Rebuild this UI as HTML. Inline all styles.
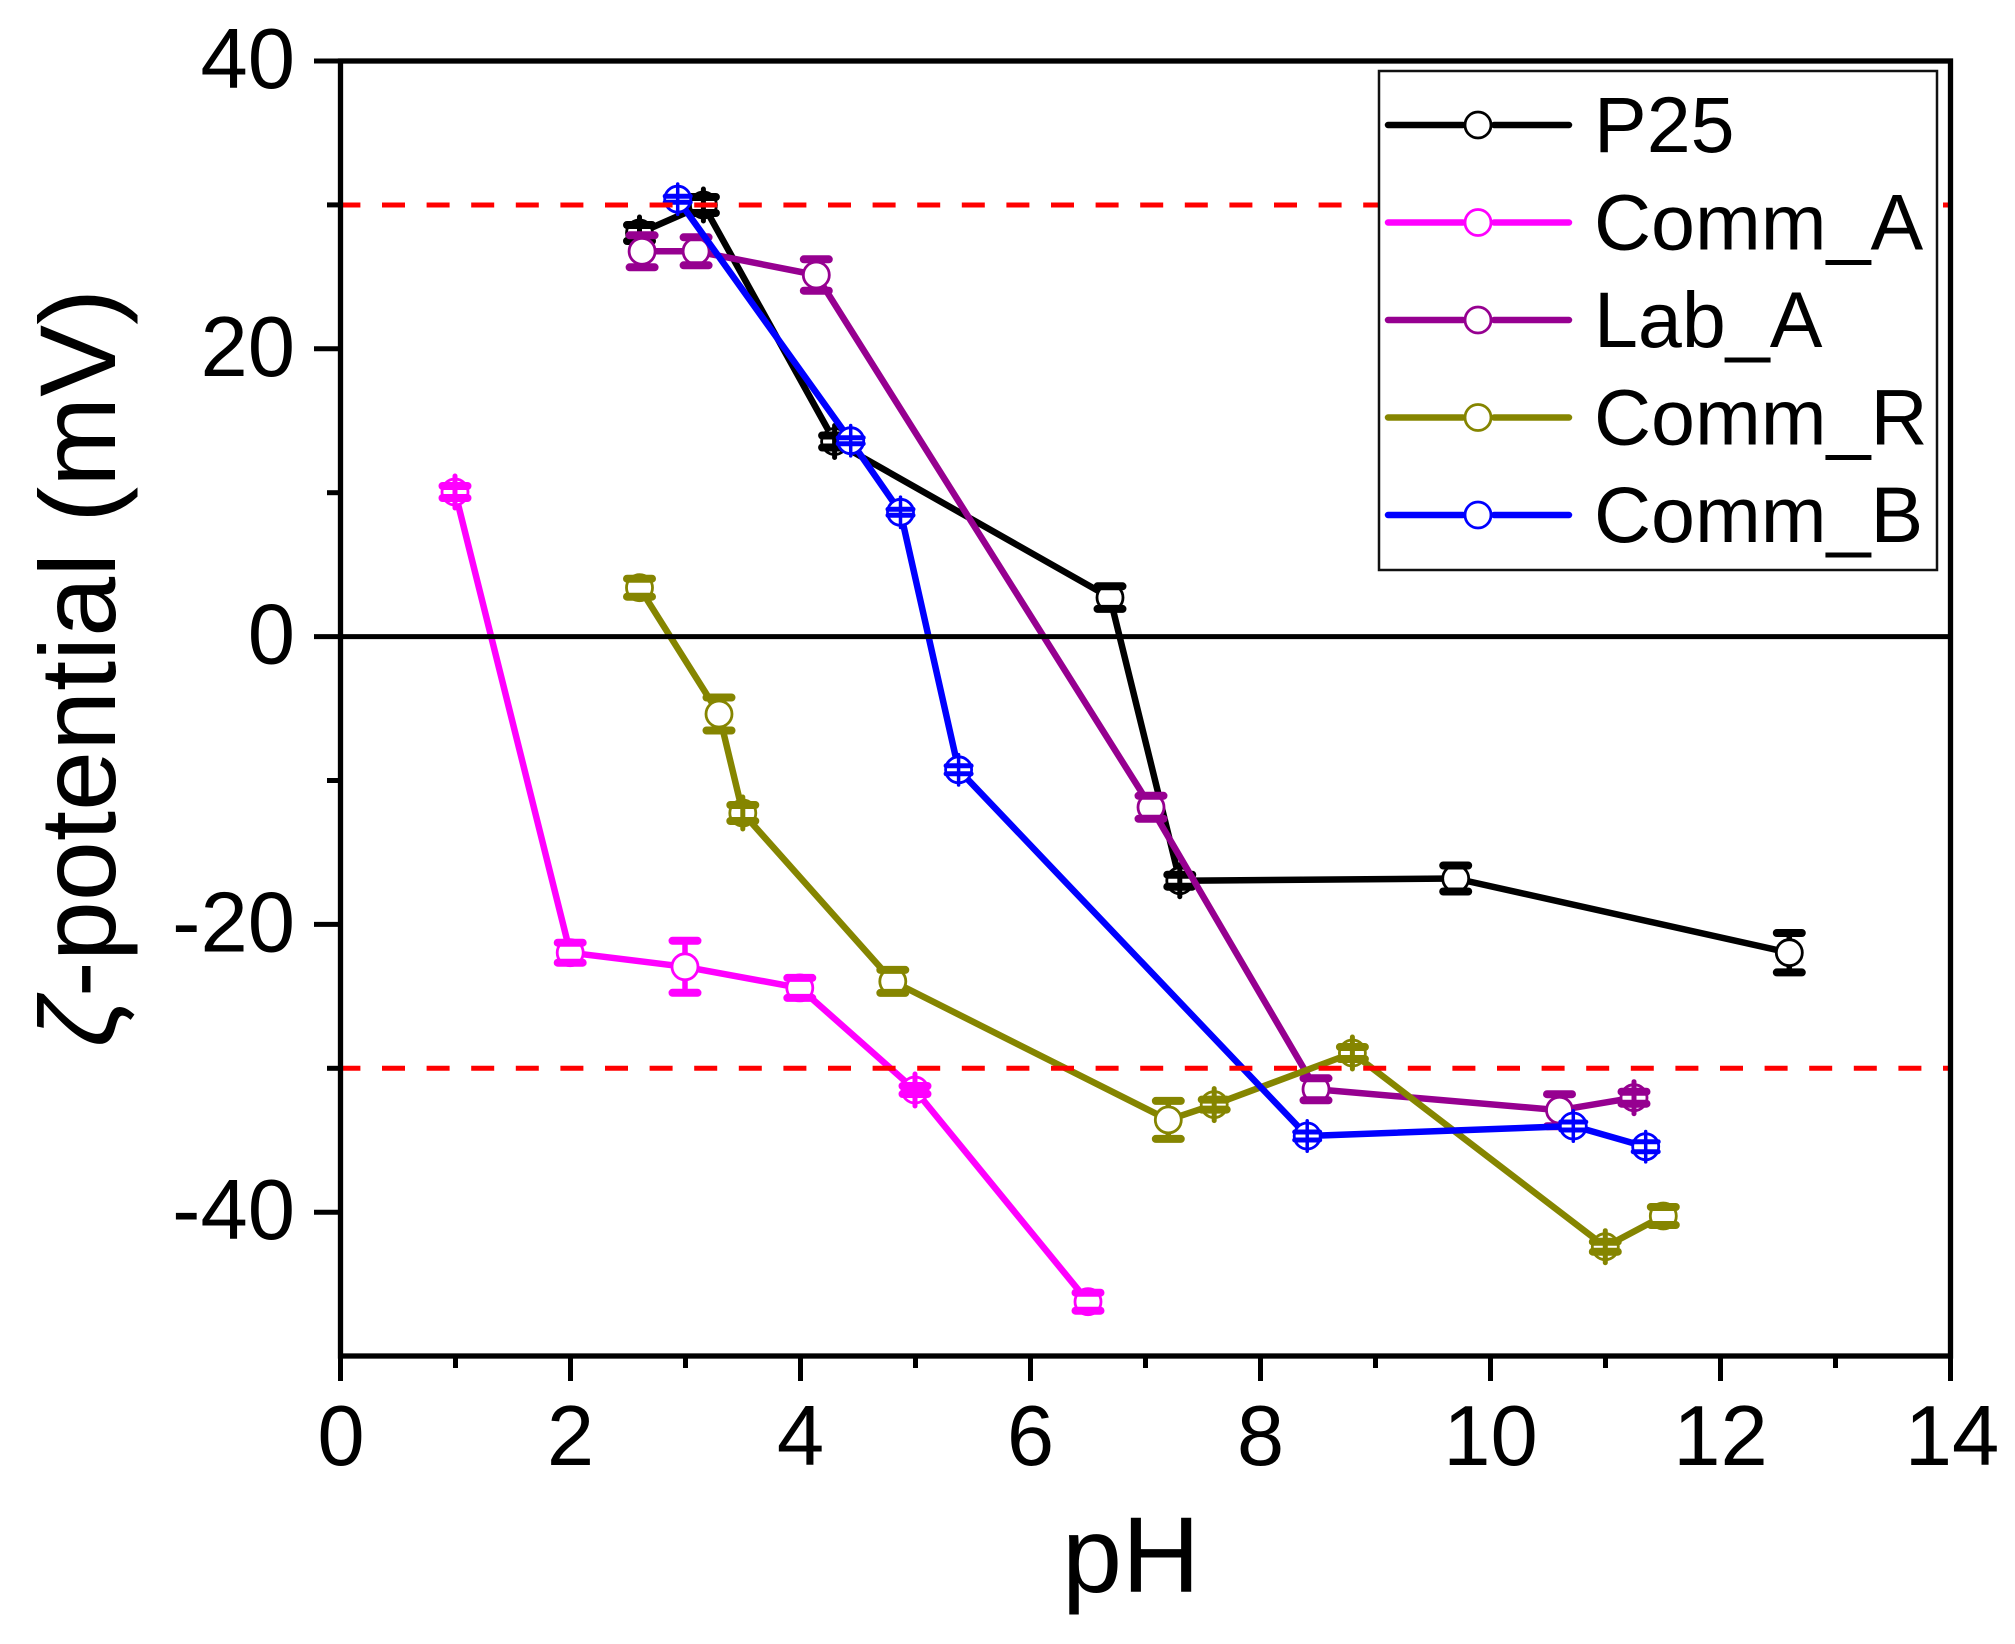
<!DOCTYPE html>
<html>
<head>
<meta charset="utf-8">
<style>
  html,body{margin:0;padding:0;background:#fff;}
  svg{display:block;}
  text{font-family:"Liberation Sans",Arial,sans-serif;fill:#000;}
</style>
</head>
<body>
<svg width="2015" height="1644" viewBox="0 0 2015 1644" xmlns="http://www.w3.org/2000/svg">
  <rect x="0" y="0" width="2015" height="1644" fill="#fff"/>

  <!-- ================= DATA ================= -->
  <g fill="none" stroke-linecap="round" stroke-linejoin="round">

    <!-- P25 (black) -->
    <polyline stroke="#000" stroke-width="6.5" points="639.5,233 703.4,205 834.6,441.5 1110,597.6 1179.8,880.7 1455.7,878.5 1789.3,952.7"/>
    <path stroke="#000" stroke-width="5.5" d="M1110 586.3V608.9 M1455.7 865.5V891.5 M1789.3 933V972.4"/>
    <g fill="#fff" stroke="#000" stroke-width="2.8">
      <circle cx="639.5" cy="233" r="13"/><circle cx="703.4" cy="205" r="13"/><circle cx="834.6" cy="441.5" r="13"/>
      <circle cx="1110" cy="597.6" r="13"/><circle cx="1179.8" cy="880.7" r="13"/><circle cx="1455.7" cy="878.5" r="13"/>
      <circle cx="1789.3" cy="952.7" r="13"/>
    </g>
    <path stroke="#000" stroke-width="5" d="M639.5 217V249 M703.4 189V221 M834.6 425.5V457.5 M1179.8 864.7V896.7"/>
    <path stroke="#000" stroke-width="8" d="M627 225H652 M627 241H652 M690.9 197H715.9 M690.9 213H715.9 M822.1 435.5H847.1 M822.1 447.5H847.1 M1097.5 586.3H1122.5 M1097.5 608.9H1122.5 M1167.3 874.7H1192.3 M1167.3 886.7H1192.3 M1443.2 865.5H1468.2 M1443.2 891.5H1468.2 M1776.8 933H1801.8 M1776.8 972.4H1801.8"/>

    <!-- Comm_A (magenta) -->
    <polyline stroke="#ff00ff" stroke-width="6.5" points="455,492 570.2,952.7 685,966.8 799.8,987.9 915,1090 1088,1301.7"/>
    <path stroke="#ff00ff" stroke-width="5.5" d="M570.2 942.7V962.7 M685 940.8V992.8 M799.8 977.9V997.9 M1088 1292.7V1310.7"/>
    <g fill="#fff" stroke="#ff00ff" stroke-width="2.8">
      <circle cx="455" cy="492" r="13"/><circle cx="570.2" cy="952.7" r="13"/><circle cx="685" cy="966.8" r="13"/>
      <circle cx="799.8" cy="987.9" r="13"/><circle cx="915" cy="1090" r="13"/><circle cx="1088" cy="1301.7" r="13"/>
    </g>
    <path stroke="#ff00ff" stroke-width="5" d="M455 476V508 M915 1074V1106"/>
    <path stroke="#ff00ff" stroke-width="8" d="M442.5 486H467.5 M442.5 498H467.5 M557.7 942.7H582.7 M557.7 962.7H582.7 M672.5 940.8H697.5 M672.5 992.8H697.5 M787.3 977.9H812.3 M787.3 997.9H812.3 M902.5 1086H927.5 M902.5 1094H927.5 M1075.5 1292.7H1100.5 M1075.5 1310.7H1100.5"/>

    <!-- Lab_A (purple) -->
    <polyline stroke="#960090" stroke-width="6.5" points="642.1,251.3 696.1,251.3 816.3,275 1151,807.3 1316,1089.3 1559.5,1110.2 1634,1097.7"/>
    <path stroke="#960090" stroke-width="5.5" d="M642.1 235.3V267.3 M696.1 237.3V265.3 M816.3 259.3V290.7 M1151 795.8V818.8 M1316 1078.3V1100.3 M1559.5 1094.2V1126.2"/>
    <g fill="#fff" stroke="#960090" stroke-width="2.8">
      <circle cx="642.1" cy="251.3" r="13"/><circle cx="696.1" cy="251.3" r="13"/><circle cx="816.3" cy="275" r="13"/>
      <circle cx="1151" cy="807.3" r="13"/><circle cx="1316" cy="1089.3" r="13"/><circle cx="1559.5" cy="1110.2" r="13"/>
      <circle cx="1634" cy="1097.7" r="13"/>
    </g>
    <path stroke="#960090" stroke-width="5" d="M1634 1081.7V1113.7"/>
    <path stroke="#960090" stroke-width="8" d="M629.6 235.3H654.6 M629.6 267.3H654.6 M683.6 237.3H708.6 M683.6 265.3H708.6 M803.8 259.3H828.8 M803.8 290.7H828.8 M1138.5 795.8H1163.5 M1138.5 818.8H1163.5 M1303.5 1078.3H1328.5 M1303.5 1100.3H1328.5 M1547 1094.2H1572 M1547 1126.2H1572 M1621.5 1091.7H1646.5 M1621.5 1103.7H1646.5"/>

    <!-- Comm_R (olive) -->
    <polyline stroke="#858500" stroke-width="6.5" points="639.5,587.7 719,714 742.8,813 892.8,981.4 1168.3,1119.9 1214.2,1104.6 1352.4,1053 1605.3,1246.7 1663.3,1216"/>
    <path stroke="#858500" stroke-width="5.5" d="M639.5 578.7V596.7 M719 697.5V730.5 M892.8 969.9V992.9 M1168.3 1100.9V1138.9 M1663.3 1207V1225"/>
    <g fill="#fff" stroke="#858500" stroke-width="2.8">
      <circle cx="639.5" cy="587.7" r="13"/><circle cx="719" cy="714" r="13"/><circle cx="742.8" cy="813" r="13"/>
      <circle cx="892.8" cy="981.4" r="13"/><circle cx="1168.3" cy="1119.9" r="13"/><circle cx="1214.2" cy="1104.6" r="13"/>
      <circle cx="1352.4" cy="1053" r="13"/><circle cx="1605.3" cy="1246.7" r="13"/><circle cx="1663.3" cy="1216" r="13"/>
    </g>
    <path stroke="#858500" stroke-width="5" d="M742.8 797V829 M1214.2 1088.6V1120.6 M1352.4 1037V1069 M1605.3 1230.7V1262.7"/>
    <path stroke="#858500" stroke-width="8" d="M627 578.7H652 M627 596.7H652 M706.5 697.5H731.5 M706.5 730.5H731.5 M730.3 805H755.3 M730.3 821H755.3 M880.3 969.9H905.3 M880.3 992.9H905.3 M1155.8 1100.9H1180.8 M1155.8 1138.9H1180.8 M1201.7 1099.6H1226.7 M1201.7 1109.6H1226.7 M1339.9 1047H1364.9 M1339.9 1059H1364.9 M1592.8 1241.7H1617.8 M1592.8 1251.7H1617.8 M1650.8 1207H1675.8 M1650.8 1225H1675.8"/>

    <!-- Comm_B (blue) -->
    <polyline stroke="#0000ff" stroke-width="6.5" points="677.7,199.2 850.7,440.7 900.5,512.3 958.6,769.8 1307.2,1136 1573.3,1126 1645.7,1146.7"/>
    <g fill="#fff" stroke="#0000ff" stroke-width="2.8">
      <circle cx="677.7" cy="199.2" r="13"/><circle cx="850.7" cy="440.7" r="13"/><circle cx="900.5" cy="512.3" r="13"/>
      <circle cx="958.6" cy="769.8" r="13"/><circle cx="1307.2" cy="1136" r="13"/><circle cx="1573.3" cy="1126" r="13"/>
      <circle cx="1645.7" cy="1146.7" r="13"/>
    </g>
    <path stroke="#0000ff" stroke-width="3.5" d="M677.7 184V214.4 M850.7 425.5V455.9 M900.5 497.1V527.5 M958.6 754.6V785 M1307.2 1120.8V1151.2 M1573.3 1110.8V1141.2 M1645.7 1131.5V1161.9"/>
    <path stroke="#0000ff" stroke-width="5" d="M665.2 196.2H690.2 M665.2 202.2H690.2 M838.2 437.7H863.2 M838.2 443.7H863.2 M888 509.3H913 M888 515.3H913 M946.1 765.8H971.1 M946.1 773.8H971.1 M1294.7 1132H1319.7 M1294.7 1140H1319.7 M1560.8 1122H1585.8 M1560.8 1130H1585.8 M1633.2 1141.7H1658.2 M1633.2 1151.7H1658.2"/>
  </g>

  <!-- zero line -->
  <line x1="340.5" y1="636.6" x2="1951" y2="636.6" stroke="#000" stroke-width="5"/>

  <!-- red dashed lines -->
  <g stroke="#ff0000" stroke-width="5" stroke-dasharray="23 21.6" stroke-dashoffset="3.6" fill="none">
    <line x1="341" y1="205" x2="1949" y2="205"/>
    <line x1="341" y1="1068.3" x2="1949" y2="1068.3"/>
  </g>

  <!-- ================= AXES ================= -->
  <rect x="340.5" y="61" width="1610" height="1295" fill="none" stroke="#000" stroke-width="5.3"/>

  <!-- Y ticks -->
  <g stroke="#000" stroke-width="5">
    <line x1="314" y1="61" x2="341" y2="61"/>
    <line x1="314" y1="348.8" x2="341" y2="348.8"/>
    <line x1="314" y1="636.6" x2="341" y2="636.6"/>
    <line x1="314" y1="924.4" x2="341" y2="924.4"/>
    <line x1="314" y1="1212.2" x2="341" y2="1212.2"/>
    <line x1="327" y1="204.9" x2="341" y2="204.9"/>
    <line x1="327" y1="492.7" x2="341" y2="492.7"/>
    <line x1="327" y1="780.5" x2="341" y2="780.5"/>
    <line x1="327" y1="1068.3" x2="341" y2="1068.3"/>
  </g>

  <!-- X ticks -->
  <g stroke="#000" stroke-width="5">
    <line x1="340.5" y1="1356" x2="340.5" y2="1381"/>
    <line x1="570.5" y1="1356" x2="570.5" y2="1381"/>
    <line x1="800.5" y1="1356" x2="800.5" y2="1381"/>
    <line x1="1030.5" y1="1356" x2="1030.5" y2="1381"/>
    <line x1="1260.5" y1="1356" x2="1260.5" y2="1381"/>
    <line x1="1490.5" y1="1356" x2="1490.5" y2="1381"/>
    <line x1="1720.5" y1="1356" x2="1720.5" y2="1381"/>
    <line x1="1950.5" y1="1356" x2="1950.5" y2="1381"/>
    <line x1="455.5" y1="1356" x2="455.5" y2="1368"/>
    <line x1="685.5" y1="1356" x2="685.5" y2="1368"/>
    <line x1="915.5" y1="1356" x2="915.5" y2="1368"/>
    <line x1="1145.5" y1="1356" x2="1145.5" y2="1368"/>
    <line x1="1375.5" y1="1356" x2="1375.5" y2="1368"/>
    <line x1="1605.5" y1="1356" x2="1605.5" y2="1368"/>
    <line x1="1835.5" y1="1356" x2="1835.5" y2="1368"/>
  </g>

  <!-- Y tick labels -->
  <g font-size="85" text-anchor="end">
    <text x="295" y="88">40</text>
    <text x="295" y="375.8">20</text>
    <text x="295" y="663.6">0</text>
    <text x="295" y="951.4">-20</text>
    <text x="295" y="1239.2">-40</text>
  </g>

  <!-- X tick labels -->
  <g font-size="85" text-anchor="middle">
    <text x="341" y="1465">0</text>
    <text x="570.5" y="1465">2</text>
    <text x="800.5" y="1465">4</text>
    <text x="1030.5" y="1465">6</text>
    <text x="1260.5" y="1465">8</text>
    <text x="1490.5" y="1465">10</text>
    <text x="1720.5" y="1465">12</text>
    <text x="1952" y="1465">14</text>
  </g>

  <!-- Axis titles -->
  <text x="1131" y="1592" font-size="108" text-anchor="middle">pH</text>
  <text transform="translate(115,668) rotate(-90)" font-size="108" text-anchor="middle"><tspan font-style="italic">ζ</tspan>-potential (mV)</text>

  <!-- ================= LEGEND ================= -->
  <rect x="1379" y="71" width="558" height="499" fill="#fff" stroke="#111" stroke-width="2.5"/>
  <g stroke-linecap="round" stroke-width="6.5" fill="none">
    <path stroke="#000" d="M1388 125H1463 M1494 125H1569"/>
    <path stroke="#ff00ff" d="M1388 222.5H1463 M1494 222.5H1569"/>
    <path stroke="#960090" d="M1388 320H1463 M1494 320H1569"/>
    <path stroke="#858500" d="M1388 417.5H1463 M1494 417.5H1569"/>
    <path stroke="#0000ff" d="M1388 515H1463 M1494 515H1569"/>
  </g>
  <g fill="#fff" stroke-width="2.8">
    <circle cx="1478" cy="125" r="13" stroke="#000"/>
    <circle cx="1478" cy="222.5" r="13" stroke="#ff00ff"/>
    <circle cx="1478" cy="320" r="13" stroke="#960090"/>
    <circle cx="1478" cy="417.5" r="13" stroke="#858500"/>
    <circle cx="1478" cy="515" r="13" stroke="#0000ff"/>
  </g>
  <g font-size="79">
    <text x="1594" y="152">P25</text>
    <text x="1594" y="249.5">Comm_A</text>
    <text x="1594" y="347">Lab_A</text>
    <text x="1594" y="444.5">Comm_R</text>
    <text x="1594" y="542">Comm_B</text>
  </g>
</svg>
</body>
</html>
